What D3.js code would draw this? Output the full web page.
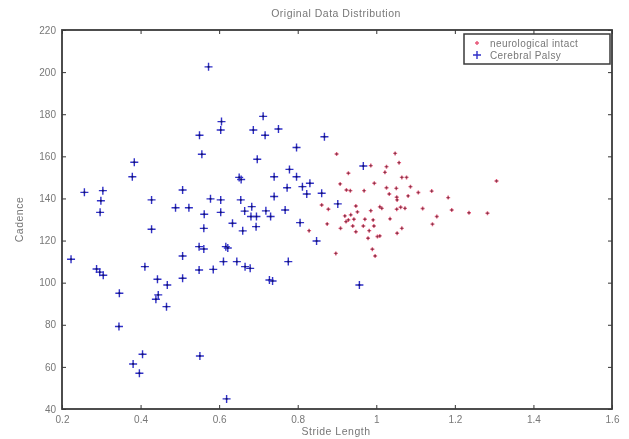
<!DOCTYPE html>
<html>
<head>
<meta charset="utf-8">
<script src="https://cdn.jsdelivr.net/npm/d3@7"></script>
<style>
  body { margin: 0; background: #fff; }
  svg { display: block; filter: blur(0.35px); }
  text { font-family: "Liberation Sans", Arial, sans-serif; fill: #777; }
</style>
</head>
<body>
<svg id="Target" width="629" height="439"></svg>
<script>
// Cerebral Palsy group (blue)
const cpStride = [0.573, 0.712, 0.606, 0.604, 0.687, 0.717, 0.550, 0.751, 0.868, 0.797,
  0.556, 0.697, 0.384, 0.379, 0.651, 0.656, 0.740, 0.779, 0.797, 0.831,
  0.773, 0.812, 0.823, 0.861, 0.740, 0.967, 0.902, 0.768, 0.806, 0.719,
  0.731, 0.683, 0.681, 0.695, 0.694, 0.257, 0.304, 0.299, 0.297, 0.428,
  0.507, 0.489, 0.523, 0.578, 0.604, 0.655, 0.562, 0.604, 0.634, 0.660,
  0.428, 0.561, 0.223, 0.288, 0.296, 0.305, 0.346, 0.345, 0.411, 0.443,
  0.468, 0.445, 0.439, 0.466, 0.507, 0.507, 0.549, 0.561, 0.549, 0.585,
  0.617, 0.622, 0.611, 0.645, 0.666, 0.679, 0.405, 0.381, 0.397, 0.551,
  0.619, 0.728, 0.736, 0.848, 0.776, 0.957, 0.665];
const cpCadence = [202.5, 179, 176.5, 172.5, 172.5, 170, 170, 173, 169.3, 164.2,
  161, 158.6, 157.2, 150.3, 150, 149, 150.3, 153.8, 150.3, 147.2,
  145.1, 145.6, 142.1, 142.5, 140.9, 155.4, 137.4, 134.5, 128.5, 134.1,
  131.4, 136.1, 131.4, 131.4, 126.6, 142.9, 143.7, 138.9, 133.4, 139.3,
  144, 135.6, 135.6, 139.8, 139.3, 139.3, 132.5, 133.4, 128.2, 124.6,
  125.4, 125.8, 111.1, 106.5, 105, 103.5, 95, 79.2, 107.6, 101.6,
  98.9, 94.2, 92.1, 88.6, 112.7, 102.1, 117.1, 116, 106, 106.3,
  117.1, 116.5, 110, 110, 107.6, 106.8, 66, 61.4, 57, 65.2,
  44.8, 101.3, 100.8, 119.8, 110, 98.9, 134];

// neurological intact group (red)
const niStride = [0.899, 1.048, 1.058, 0.986, 1.026, 0.929, 1.022, 1.065, 1.077, 0.995,
  0.908, 1.087, 1.026, 1.051, 0.924, 0.934, 0.969, 1.107, 1.141, 1.033,
  1.081, 1.052, 1.053, 1.183, 1.306, 0.861, 0.878, 0.948, 0.986, 1.009,
  1.014, 1.052, 1.062, 1.073, 1.118, 1.192, 1.236, 1.283, 1.154, 0.920,
  0.935, 0.952, 0.929, 0.923, 0.943, 0.971, 0.992, 0.875, 0.909, 0.940,
  0.967, 0.994, 1.035, 1.143, 0.948, 0.982, 1.065, 1.053, 0.979, 1.003,
  1.009, 0.990, 0.997, 0.897, 0.829];
const niCadence = [161.1, 161.4, 157, 155.6, 155.1, 152, 152.4, 150, 150, 147.2,
  146.9, 145.6, 145.1, 144.8, 144, 143.7, 143.7, 142.8, 143.5, 142.1,
  141.2, 140.6, 139.3, 140.4, 148.3, 136.9, 134.9, 136.4, 134.2, 136,
  135.3, 134.9, 135.8, 135.3, 135.2, 134.5, 133.2, 133, 131.4, 131.7,
  132.2, 133.6, 129.8, 129, 130.1, 130.1, 129.8, 127.9, 125.8, 126.9,
  126.9, 126.9, 130.3, 127.8, 124.2, 124.7, 125.8, 123.5, 121.1, 121.9,
  122.2, 115.9, 112.7, 113.9, 124.7];

const xTicks = [0.2, 0.4, 0.6, 0.8, 1, 1.2, 1.4, 1.6];
const yTicks = [40, 60, 80, 100, 120, 140, 160, 180, 200, 220];

const plotLeft = 62, plotRight = 612, plotTop = 30, plotBottom = 409;

const svg = d3.select("#Target");

const x = d3.scaleLinear().domain([0.2, 1.6]).range([plotLeft, plotRight]);
const y = d3.scaleLinear().domain([40, 220]).range([plotBottom, plotTop]);

const cp = cpStride.map((s, i) => ({ x: s, y: cpCadence[i] }));
const ni = niStride.map((s, i) => ({ x: s, y: niCadence[i] }));

// plus marker path
const plus = (r) => `M${-r},0H${r}M0,${-r}V${r}`;

// draws one group of markers: coloured cross with a darker centre
const drawMarkers = (cls, points, r, color, core) => {
  const g = svg.selectAll(`g.${cls}`)
    .data(points)
    .enter()
    .append("g")
    .attr("class", cls)
    .attr("transform", d => `translate(${x(d.x)},${y(d.y)})`);
  g.append("path")
    .attr("d", plus(r))
    .attr("stroke", color)
    .attr("stroke-width", 1.4)
    .attr("fill", "none");
  g.append("rect")
    .attr("x", -0.9).attr("y", -0.9)
    .attr("width", 1.8).attr("height", 1.8)
    .attr("fill", core);
};

drawMarkers("ni", ni, 2, "#e8587a", "#7a3a4a");
drawMarkers("cp", cp, 4, "#3030c8", "#151560");

// axes (ticks pointing inward, MATLAB style)
const tickLen = 4;
const fmt = d => d3.format("")(d);

svg.append("g")
  .attr("transform", `translate(0,${plotBottom})`)
  .call(d3.axisBottom(x).tickValues(xTicks).tickSize(-tickLen).tickPadding(7).tickFormat(fmt))
  .call(g => g.select(".domain").remove())
  .call(g => g.selectAll("line").attr("stroke", "#333"))
  .call(g => g.selectAll("text").attr("font-size", 10).attr("fill", "#888").attr("font-family", "Liberation Sans"));

svg.append("g")
  .attr("transform", `translate(0,${plotTop})`)
  .call(d3.axisTop(x).tickValues(xTicks).tickSize(-tickLen).tickFormat(""))
  .call(g => g.select(".domain").remove())
  .call(g => g.selectAll("line").attr("stroke", "#333"));

svg.append("g")
  .attr("transform", `translate(${plotLeft},0)`)
  .call(d3.axisLeft(y).tickValues(yTicks).tickSize(-tickLen).tickPadding(6).tickFormat(fmt))
  .call(g => g.select(".domain").remove())
  .call(g => g.selectAll("line").attr("stroke", "#333"))
  .call(g => g.selectAll("text").attr("font-size", 10).attr("fill", "#888").attr("font-family", "Liberation Sans"));

svg.append("g")
  .attr("transform", `translate(${plotRight},0)`)
  .call(d3.axisRight(y).tickValues(yTicks).tickSize(-tickLen).tickFormat(""))
  .call(g => g.select(".domain").remove())
  .call(g => g.selectAll("line").attr("stroke", "#333"));

svg.append("rect")
  .attr("x", plotLeft)
  .attr("y", plotTop)
  .attr("width", plotRight - plotLeft)
  .attr("height", plotBottom - plotTop)
  .attr("fill", "none")
  .attr("stroke", "#3a3a3a")
  .attr("stroke-width", 1.8);

// title and labels
svg.append("text")
  .attr("x", 336)
  .attr("y", 17)
  .attr("text-anchor", "middle")
  .attr("font-size", 10.5)
  .attr("letter-spacing", 0.5)
  .text("Original Data Distribution");

svg.append("text")
  .attr("x", 336)
  .attr("y", 435)
  .attr("text-anchor", "middle")
  .attr("font-size", 10.5)
  .attr("letter-spacing", 0.5)
  .text("Stride Length");

svg.append("text")
  .attr("transform", `translate(23,${(plotTop + plotBottom) / 2}) rotate(-90)`)
  .attr("text-anchor", "middle")
  .attr("font-size", 10.5)
  .attr("letter-spacing", 0.5)
  .text("Cadence");

// legend
const legend = svg.append("g").attr("transform", "translate(464,34)");

legend.append("rect")
  .attr("width", 146)
  .attr("height", 30)
  .attr("fill", "#fff")
  .attr("stroke", "#3a3a3a")
  .attr("stroke-width", 1.5);

const legendItems = [
  { label: "neurological intact", color: "#e8587a", r: 2 },
  { label: "Cerebral Palsy", color: "#3030c8", r: 4 }
];

legendItems.forEach((item, i) => {
  legend.append("path")
    .attr("d", plus(item.r))
    .attr("transform", `translate(13,${9 + i * 12})`)
    .attr("stroke", item.color)
    .attr("stroke-width", 1.4)
    .attr("fill", "none");
  legend.append("text")
    .attr("x", 26)
    .attr("y", 12.5 + i * 12)
    .attr("font-size", 10)
    .attr("letter-spacing", 0.4)
    .text(item.label);
});
</script>
</body>
</html>
